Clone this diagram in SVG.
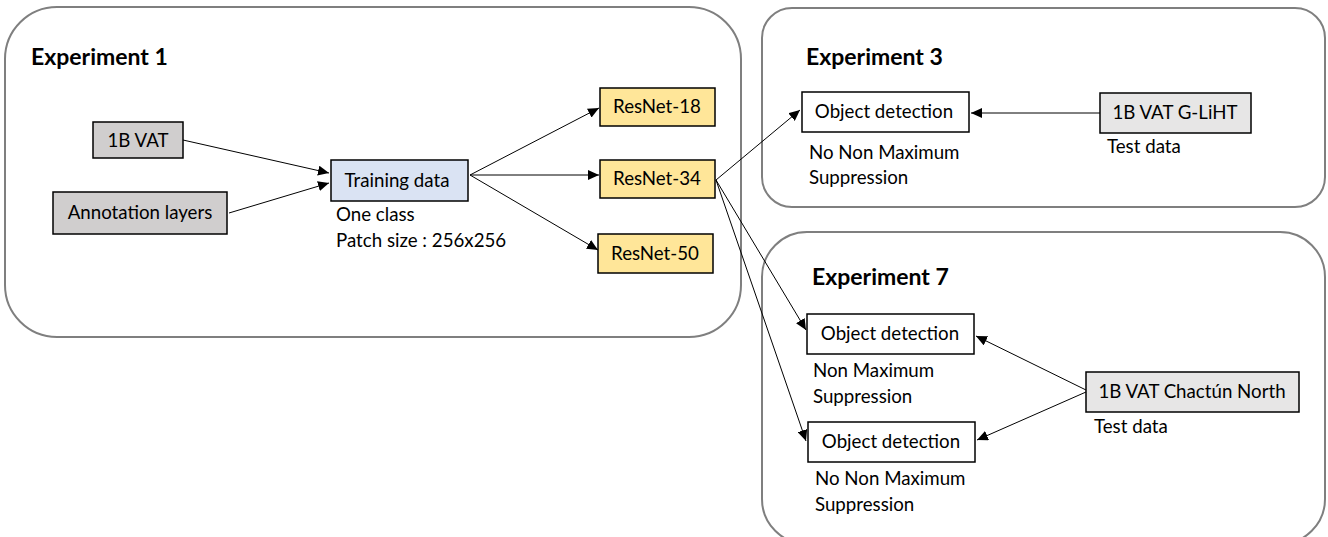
<svg xmlns="http://www.w3.org/2000/svg" width="1328" height="537" viewBox="0 0 1328 537">
<style>
.container{fill:#ffffff;stroke:#7f7f7f;stroke-width:2}
.box{stroke:#000000;stroke-width:1.5}
.gray{fill:#d0cece}
.lgray{fill:#e7e6e6}
.blue{fill:#dae3f3}
.yellow{fill:#ffe699}
.white{fill:#ffffff}
text{font-family:Lato,"Open Sans","Liberation Sans",sans-serif;font-size:18.7px;fill:#000000}
.title{font-weight:bold;font-size:23px}
.c{text-anchor:middle}
.conn line{stroke:#000000;stroke-width:1;marker-end:url(#arr)}
</style>
<defs>
<marker id="arr" markerUnits="userSpaceOnUse" markerWidth="12" markerHeight="10" refX="11" refY="5" orient="auto">
<path d="M0,0 L11,5 L0,10 Z" fill="#000000"/>
</marker>
</defs>
<g id="experiment1">
<rect class="container" x="5" y="7" width="736" height="330" rx="52" ry="52"/>
<text class="title" x="31" y="65">Experiment 1</text>
</g>
<g id="experiment3">
<rect class="container" x="762" y="8" width="563" height="199" rx="30" ry="30"/>
<text class="title" x="806" y="65">Experiment 3</text>
</g>
<g id="experiment7">
<rect class="container" x="762" y="232" width="563" height="312" rx="45" ry="45"/>
<text class="title" x="812" y="285">Experiment 7</text>
</g>
<g id="vat1b">
<rect class="box gray" x="93" y="122" width="90" height="36"/>
<text class="c" x="138" y="147">1B VAT</text>
</g>
<g id="annotation">
<rect class="box gray" x="53" y="192" width="174" height="42"/>
<text class="c" x="140" y="219">Annotation layers</text>
</g>
<g id="training">
<rect class="box blue" x="331" y="160" width="137" height="41"/>
<text class="c" x="397" y="187">Training data</text>
<text x="336" y="221">One class</text>
<text x="336" y="247">Patch size : 256x256</text>
</g>
<g id="resnet18">
<rect class="box yellow" x="600" y="88" width="115" height="38"/>
<text class="c" x="657" y="113">ResNet-18</text>
</g>
<g id="resnet34">
<rect class="box yellow" x="600" y="160" width="115" height="38"/>
<text class="c" x="657" y="185">ResNet-34</text>
</g>
<g id="resnet50">
<rect class="box yellow" x="598" y="234" width="115" height="39"/>
<text class="c" x="655" y="260">ResNet-50</text>
</g>
<g id="objdet3">
<rect class="box white" x="802" y="92" width="167" height="40"/>
<text class="c" x="884" y="118">Object detection</text>
<text x="809" y="159">No Non Maximum</text>
<text x="809" y="184">Suppression</text>
</g>
<g id="gliht">
<rect class="box lgray" x="1100" y="93" width="151" height="40"/>
<text class="c" x="1175" y="119">1B VAT G-LiHT</text>
<text x="1107" y="153">Test data</text>
</g>
<g id="objdet7a">
<rect class="box white" x="807" y="314" width="167" height="40"/>
<text class="c" x="890" y="340">Object detection</text>
<text x="813" y="377">Non Maximum</text>
<text x="813" y="403">Suppression</text>
</g>
<g id="objdet7b">
<rect class="box white" x="808" y="422" width="167" height="40"/>
<text class="c" x="891" y="448">Object detection</text>
<text x="815" y="485">No Non Maximum</text>
<text x="815" y="511">Suppression</text>
</g>
<g id="chactun">
<rect class="box lgray" x="1086" y="372" width="213" height="40"/>
<text class="c" x="1192" y="398">1B VAT Chactún North</text>
<text x="1094" y="433">Test data</text>
</g>
<g id="connectors" class="conn">
<line x1="183" y1="140" x2="329" y2="173"/>
<line x1="229" y1="213" x2="329" y2="183"/>
<line x1="470" y1="175" x2="599" y2="108"/>
<line x1="470" y1="175" x2="599" y2="175"/>
<line x1="470" y1="175" x2="598" y2="250"/>
<line x1="716" y1="180" x2="800" y2="110"/>
<line x1="716" y1="180" x2="806" y2="330"/>
<line x1="716" y1="180" x2="806" y2="441"/>
<line x1="1086" y1="390" x2="976" y2="336"/>
<line x1="1086" y1="392" x2="977" y2="440"/>
<line x1="1100" y1="113" x2="971" y2="113"/>
</g>
</svg>
